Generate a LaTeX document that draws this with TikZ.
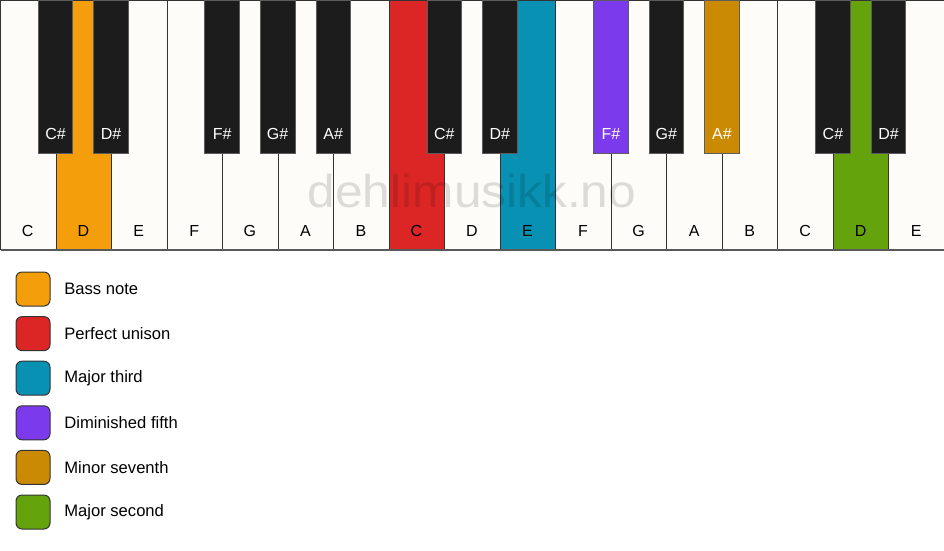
\documentclass[tikz,border=0pt]{standalone}
\usepackage{fontspec}
\setmainfont{Liberation Sans}
\definecolor{keywhite}{HTML}{FDFCF9}
\definecolor{keyblack}{HTML}{1C1C1C}
\definecolor{keyline}{HTML}{333333}
\definecolor{bass}{HTML}{F59E0B}
\definecolor{unison}{HTML}{DC2626}
\definecolor{third}{HTML}{0891B2}
\definecolor{fifth}{HTML}{7C3AED}
\definecolor{seventh}{HTML}{CA8A04}
\definecolor{second}{HTML}{65A30D}
\tikzset{
  whitekey/.style={draw=keyline, line width=1pt, anchor=north west, minimum width=55.53pt, minimum height=249pt, inner sep=0pt, outer sep=0pt},
  blackkey/.style={draw=keyline!80, line width=0.8pt, anchor=north, minimum width=34.5pt, minimum height=153pt, inner sep=0pt, outer sep=0pt},
  whitelabel/.style={text=black, font=\fontsize{16}{19}\selectfont, anchor=base},
  blacklabel/.style={text=white, font=\fontsize{16}{19}\selectfont, anchor=base},
  legbox/.style={draw=keyline, line width=1pt, rounded corners=6pt, minimum width=34pt, minimum height=34pt, inner sep=0pt},
  legtext/.style={anchor=west, font=\fontsize{16.6}{19}\selectfont, text=black}
}
\begin{document}
\begin{tikzpicture}[x=1pt,y=-1pt]
\useasboundingbox (0,0) rectangle (944,550);
\fill[white] (0,0) rectangle (944,550);
% white keys
\foreach \i/\n/\c in {0/C/keywhite,1/D/bass,2/E/keywhite,3/F/keywhite,4/G/keywhite,5/A/keywhite,6/B/keywhite,7/C/unison,8/D/keywhite,9/E/third,10/F/keywhite,11/G/keywhite,12/A/keywhite,13/B/keywhite,14/C/keywhite,15/D/second,16/E/keywhite}{
  \node[whitekey, fill=\c] (w\i) at ({\i*55.53+0.5},0.5) {};
  \node[whitelabel] (lw\i) at ({(\i+0.5)*55.53},236) {\n};
}
% bottom edge
\draw[line width=2pt, draw=black!65] (w0.south west) -- (w16.south east);
% black keys
\foreach \b/\n/\c in {1/C\#/keyblack,2/D\#/keyblack,4/F\#/keyblack,5/G\#/keyblack,6/A\#/keyblack,8/C\#/keyblack,9/D\#/keyblack,11/F\#/fifth,12/G\#/keyblack,13/A\#/seventh,15/C\#/keyblack,16/D\#/keyblack}{
  \node[blackkey, fill=\c] (b\b) at ({\b*55.53},0) {};
  \node[blacklabel] (lb\b) at ({\b*55.53},139) {\n};
}
% watermark
\node[anchor=base, text=black, text opacity=0.13, font=\fontsize{46}{50}\selectfont, xscale=1.08] (wm) at (472,207.5) {dehlimusikk.no};
% legend
\foreach \k/\c/\t in {0/bass/Bass note,1/unison/Perfect unison,2/third/Major third,3/fifth/Diminished fifth,4/seventh/Minor seventh,5/second/Major second}{
  \node[legbox, fill=\c] (s\k) at (33,{289+\k*44.6}) {};
  \node[legtext] (t\k) at (60.8,{289+\k*44.6}) {\t};
}
\end{tikzpicture}
\end{document}
